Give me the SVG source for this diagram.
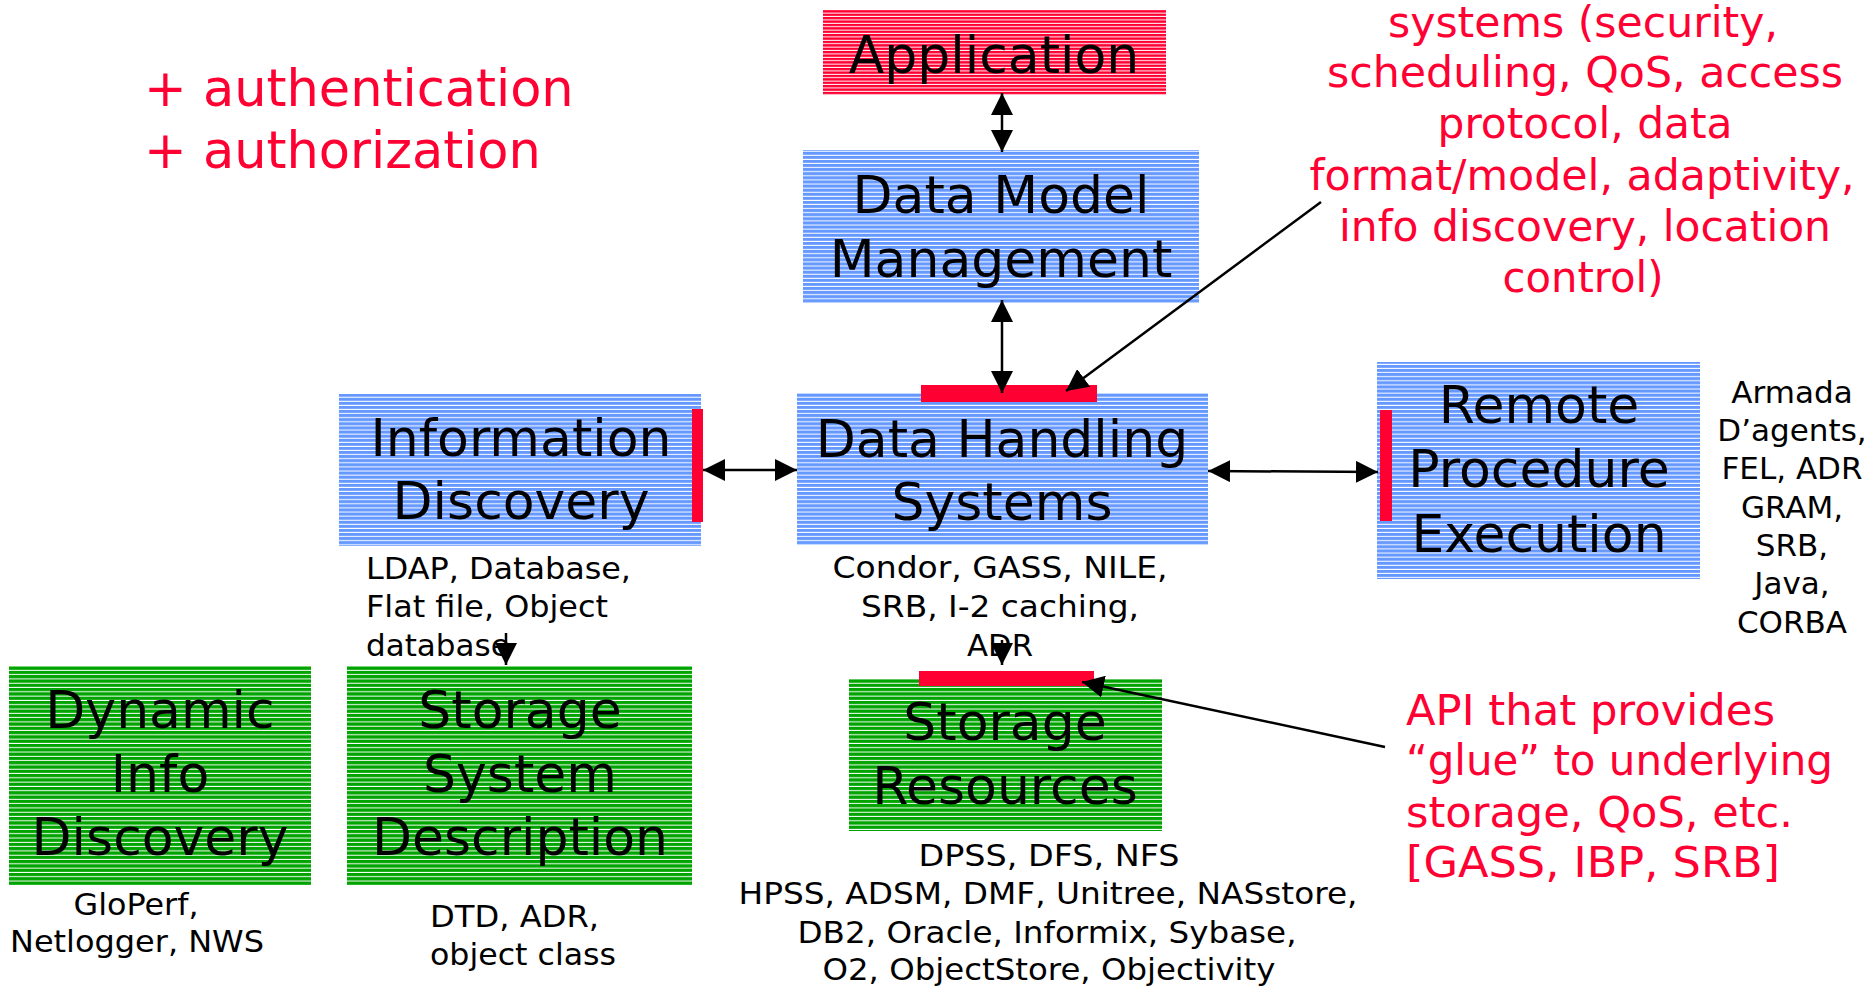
<svg xmlns="http://www.w3.org/2000/svg" width="1871" height="988" viewBox="0 0 1871 988">
<style>
text{font-family:"DejaVu Sans",Verdana,sans-serif;fill:#000}
.lbl{font-size:52px;text-anchor:middle}
.cap{font-size:31px}
.mid{text-anchor:middle}
.red{fill:#FF0033}
.note{font-size:43px}
.bar{fill:#FF0033}
.conn line{stroke:#000;stroke-width:2.5;fill:none}
</style>
<defs>
<pattern id="pRed" patternUnits="userSpaceOnUse" width="20" height="3.4">
<rect width="20" height="3.4" fill="#FF0033"/><rect y="2.4" width="20" height="1" fill="#fff"/>
</pattern>
<pattern id="pBlue" patternUnits="userSpaceOnUse" width="20" height="4.1">
<rect width="20" height="4.1" fill="#6699FF"/><rect y="3.1" width="20" height="1" fill="#fff"/>
</pattern>
<pattern id="pGreen" patternUnits="userSpaceOnUse" width="20" height="4.3">
<rect width="20" height="4.3" fill="#00A400"/><rect y="3.3" width="20" height="1" fill="#fff"/>
</pattern>
<marker id="ah" viewBox="0 0 22 22" refX="22" refY="11" markerWidth="22" markerHeight="22" markerUnits="userSpaceOnUse" orient="auto-start-reverse">
<path d="M0,0 L22,11 L0,22 z" fill="#000"/>
</marker>
</defs>
<rect width="1871" height="988" fill="#fff"/>

<g id="note-auth">
<text class="red" x="144" y="106" style="font-size:51px">+ authentication</text>
<text class="red" x="144" y="168" style="font-size:51px">+ authorization</text>
</g>

<g id="application">
<rect x="823" y="10" width="343" height="85" fill="url(#pRed)"/>
<text class="lbl" x="994" y="73">Application</text>
</g>

<g id="data-model-management">
<rect x="803" y="150" width="396" height="153" fill="url(#pBlue)"/>
<text class="lbl" x="1001" y="213">Data Model</text>
<text class="lbl" x="1001" y="277">Management</text>
</g>

<g id="information-discovery">
<rect x="339" y="394" width="362" height="152" fill="url(#pBlue)"/>
<rect class="bar" x="692" y="409" width="11" height="113"/>
<text class="lbl" x="521" y="456">Information</text>
<text class="lbl" x="521" y="519">Discovery</text>
<text class="cap" x="366" y="579" textLength="265" lengthAdjust="spacingAndGlyphs">LDAP, Database,</text>
<text class="cap" x="366" y="617" textLength="242" lengthAdjust="spacingAndGlyphs">Flat file, Object</text>
<text class="cap" x="366" y="656">database</text>
</g>

<g id="data-handling-systems">
<rect x="797" y="393" width="411" height="152" fill="url(#pBlue)"/>
<rect class="bar" x="921" y="385" width="176" height="17"/>
<text class="lbl" x="1002" y="457">Data Handling</text>
<text class="lbl" x="1002" y="520">Systems</text>
<text class="cap mid" x="1000" y="578" textLength="335" lengthAdjust="spacingAndGlyphs">Condor, GASS, NILE,</text>
<text class="cap mid" x="1000" y="617" textLength="278" lengthAdjust="spacingAndGlyphs">SRB, I-2 caching,</text>
<text class="cap mid" x="1000" y="656" textLength="66" lengthAdjust="spacingAndGlyphs">ADR</text>
</g>

<g id="remote-procedure-execution">
<rect x="1377" y="362" width="323" height="217" fill="url(#pBlue)"/>
<rect class="bar" x="1380" y="410" width="12" height="111"/>
<text class="lbl" x="1539" y="423">Remote</text>
<text class="lbl" x="1539" y="487">Procedure</text>
<text class="lbl" x="1539" y="552">Execution</text>
<text class="cap mid" x="1792" y="403">Armada</text>
<text class="cap mid" x="1792" y="441">D’agents,</text>
<text class="cap mid" x="1792" y="479">FEL, ADR</text>
<text class="cap mid" x="1792" y="518">GRAM,</text>
<text class="cap mid" x="1792" y="556">SRB,</text>
<text class="cap mid" x="1792" y="594">Java,</text>
<text class="cap mid" x="1792" y="633">CORBA</text>
</g>

<g id="dynamic-info-discovery">
<rect x="9" y="666" width="302" height="219" fill="url(#pGreen)"/>
<text class="lbl" x="160" y="728">Dynamic</text>
<text class="lbl" x="160" y="792">Info</text>
<text class="lbl" x="160" y="855">Discovery</text>
<text class="cap mid" x="136" y="915" textLength="125" lengthAdjust="spacingAndGlyphs">GloPerf,</text>
<text class="cap mid" x="137" y="952" textLength="254" lengthAdjust="spacingAndGlyphs">Netlogger, NWS</text>
</g>

<g id="storage-system-description">
<rect x="347" y="666" width="345" height="219" fill="url(#pGreen)"/>
<text class="lbl" x="520" y="728">Storage</text>
<text class="lbl" x="520" y="792">System</text>
<text class="lbl" x="520" y="855">Description</text>
<text class="cap" x="430" y="927" textLength="169" lengthAdjust="spacingAndGlyphs">DTD, ADR,</text>
<text class="cap" x="430" y="965" textLength="186" lengthAdjust="spacingAndGlyphs">object class</text>
</g>

<g id="storage-resources">
<rect x="849" y="679" width="313" height="152" fill="url(#pGreen)"/>
<rect class="bar" x="919" y="671" width="175" height="15"/>
<text class="lbl" x="1005" y="740">Storage</text>
<text class="lbl" x="1005" y="804">Resources</text>
<text class="cap mid" x="1049" y="866" textLength="261" lengthAdjust="spacingAndGlyphs">DPSS, DFS, NFS</text>
<text class="cap mid" x="1048" y="904" textLength="619" lengthAdjust="spacingAndGlyphs">HPSS, ADSM, DMF, Unitree, NASstore,</text>
<text class="cap mid" x="1047" y="943" textLength="499" lengthAdjust="spacingAndGlyphs">DB2, Oracle, Informix, Sybase,</text>
<text class="cap mid" x="1049" y="980" textLength="453" lengthAdjust="spacingAndGlyphs">O2, ObjectStore, Objectivity</text>
</g>

<g id="note-systems">
<text class="red note mid" x="1583" y="37" textLength="390" lengthAdjust="spacingAndGlyphs">systems (security,</text>
<text class="red note mid" x="1585" y="87" textLength="516" lengthAdjust="spacingAndGlyphs">scheduling, QoS, access</text>
<text class="red note mid" x="1585" y="138" textLength="295" lengthAdjust="spacingAndGlyphs">protocol, data</text>
<text class="red note mid" x="1582" y="190" textLength="545" lengthAdjust="spacingAndGlyphs">format/model, adaptivity,</text>
<text class="red note mid" x="1585" y="241" textLength="492" lengthAdjust="spacingAndGlyphs">info discovery, location</text>
<text class="red note mid" x="1583" y="292" textLength="161" lengthAdjust="spacingAndGlyphs">control)</text>
</g>

<g id="note-api">
<text class="red note" x="1406" y="725" textLength="369" lengthAdjust="spacingAndGlyphs">API that provides</text>
<text class="red note" x="1406" y="775" textLength="427" lengthAdjust="spacingAndGlyphs">“glue” to underlying</text>
<text class="red note" x="1406" y="827" textLength="387" lengthAdjust="spacingAndGlyphs">storage, QoS, etc.</text>
<text class="red note" x="1406" y="877" textLength="374" lengthAdjust="spacingAndGlyphs">[GASS, IBP, SRB]</text>
</g>

<g id="connectors" class="conn">
<line x1="1002" y1="93" x2="1002" y2="152" marker-start="url(#ah)" marker-end="url(#ah)"/>
<line x1="1002" y1="300" x2="1002" y2="393" marker-start="url(#ah)" marker-end="url(#ah)"/>
<line x1="703" y1="470" x2="797" y2="470" marker-start="url(#ah)" marker-end="url(#ah)"/>
<line x1="1208" y1="471" x2="1378" y2="472" marker-start="url(#ah)" marker-end="url(#ah)"/>
<line x1="506" y1="633" x2="506" y2="665" marker-end="url(#ah)"/>
<line x1="1002" y1="640" x2="1002" y2="665" marker-end="url(#ah)"/>
<line x1="1321" y1="202" x2="1066" y2="391" marker-end="url(#ah)"/>
<line x1="1385" y1="747" x2="1082" y2="682" marker-end="url(#ah)"/>
</g>
</svg>
